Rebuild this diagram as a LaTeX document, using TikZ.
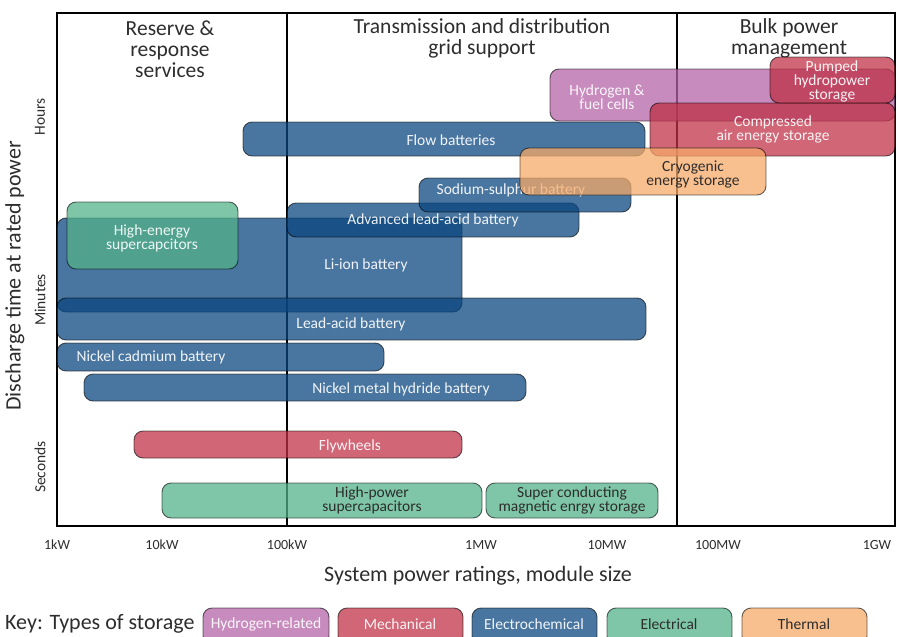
\documentclass[tikz,border=0pt]{standalone}
\usepackage{fontspec}
\setmainfont{Carlito}
\definecolor{hydC}{RGB}{181,98,167}
\definecolor{mechC}{RGB}{191,48,70}
\definecolor{echemC}{RGB}{10,70,127}
\definecolor{elecC}{RGB}{82,178,137}
\definecolor{thermC}{RGB}{247,170,104}
\definecolor{txt}{RGB}{45,45,45}
\newcommand\sbar[6]{\node[#6, minimum width={#4-#2}, minimum height={#5-#3}] (#1) at ({(#2+#4)/2},{(#3+#5)/2}) {};}
\begin{document}
\begin{tikzpicture}[x=1pt,y=-1pt,
  bar/.style={rectangle, rounded corners=9pt, draw=black, draw opacity=0.6, line width=0.9pt, fill opacity=0.74, inner sep=0pt, outer sep=0pt},
  hyd/.style={bar, fill=hydC},
  mech/.style={bar, fill=mechC},
  echem/.style={bar, fill=echemC},
  elec/.style={bar, fill=elecC},
  therm/.style={bar, fill=thermC},
  lbl/.style={font=\fontsize{15.5}{14}\selectfont, align=center, text=white, text opacity=0.92, inner sep=0pt},
  lbldark/.style={lbl, text=txt, text opacity=1},
  head/.style={font=\fontsize{21.5}{21}\selectfont, align=center, text=txt, inner sep=0pt},
  axtitle/.style={font=\fontsize{22}{22}\selectfont, text=txt, inner sep=0pt},
  tick/.style={font=\fontsize{14}{14}\selectfont, text=txt, inner sep=0pt},
  ytick/.style={font=\fontsize{15.5}{15.5}\selectfont, text=txt, inner sep=0pt, rotate=90},
  frame/.style={line width=2pt, black}
]
\useasboundingbox (0,0) rectangle (898,637);

% frame and region dividers
\draw[frame] (57,13) rectangle (895,526);
\draw[frame] (287,13) -- (287,526);
\draw[frame] (677,13) -- (677,526);

% region headers
\node[head] (hres) at (170,49) {Reserve \&\\response\\services};
\node[head] (htd) at (482,38) {Transmission and distribution\\grid support};
\node[head] (hbulk) at (789,38) {Bulk power\\management};

% bars
\sbar{liion}{57}{218}{462}{312}{echem}
\node[lbl] (liiont) at (366,265) {Li-ion battery};
\sbar{leadacid}{57}{298}{646}{340}{echem}
\node[lbl] (leadacidt) at (351,324) {Lead-acid battery};
\sbar{hesc}{67}{202}{238}{269}{elec}
\node[lbl] (hesct) at (152,238) {High-energy\\supercapcitors};
\sbar{alab}{287}{203}{579}{237}{echem}
\node[lbl] (alabt) at (433,220) {Advanced lead-acid battery};
\sbar{nas}{419}{178}{631}{212}{echem}
\node[lbl] (nast) at (511,190) {Sodium-sulphur battery};
\sbar{flow}{243}{122}{645}{156}{echem}
\node[lbl] (flowt) at (451,140) {Flow batteries};
\sbar{h2}{550}{69}{895}{121}{hyd}
\node[lbl] (h2t) at (607,97) {Hydrogen \&\\fuel cells};
\sbar{caes}{650}{103}{895}{156}{mech}
\node[lbl] (caest) at (773,129) {Compressed\\air energy storage};
\sbar{phs}{770}{57}{895}{103}{mech}
\node[lbl] (phst) at (832,81) {Pumped\\hydropower\\storage};
\sbar{cryo}{520}{148}{766}{195}{therm}
\node[lbldark] (cryot) at (693,174) {Cryogenic\\energy storage};
\sbar{nicd}{57}{343}{384}{371}{echem}
\node[lbl] (nicdt) at (151,357) {Nickel cadmium battery};
\sbar{nimh}{84}{374}{526}{401}{echem}
\node[lbl] (nimht) at (401,389) {Nickel metal hydride battery};
\sbar{fly}{134}{431}{462}{458}{mech}
\node[lbl] (flyt) at (350,446) {Flywheels};
\sbar{hpsc}{162}{483}{482}{518}{elec}
\node[lbldark] (hpsct) at (372,500) {High-power\\supercapacitors};
\sbar{smes}{486}{483}{658}{518}{elec}
\node[lbldark] (smest) at (572,500) {Super conducting\\magnetic enrgy storage};

% x ticks
\node[tick] (t1) at (57,545) {1kW};
\node[tick] (t2) at (162,545) {10kW};
\node[tick] (t3) at (287,545) {100kW};
\node[tick] (t4) at (481,545) {1MW};
\node[tick] (t5) at (607,545) {10MW};
\node[tick] (t6) at (718,545) {100MW};
\node[tick] (t7) at (877,545) {1GW};
\node[axtitle] (xtitle) at (478,576) {System power ratings, module size};

% y axis
\node[axtitle, rotate=90] (ytitle) at (15,276) {Discharge time at rated power};
\node[ytick] (yh) at (40,117) {Hours};
\node[ytick] (ym) at (40,300) {Minutes};
\node[ytick] (ys) at (40,467) {Seconds};

% key
\node[axtitle, anchor=west] (keyt) at (5,624) {Key: Types of storage};
\sbar{k1}{203}{608}{329}{645}{hyd}
\node[lbl] (k1t) at (266,624) {Hydrogen-related};
\sbar{k2}{338}{608}{463}{645}{mech}
\node[lbl] (k2t) at (400,624) {Mechanical};
\sbar{k3}{472}{608}{597}{645}{echem}
\node[lbl] (k3t) at (534,624) {Electrochemical};
\sbar{k4}{607}{608}{732}{645}{elec}
\node[lbldark] (k4t) at (669,624) {Electrical};
\sbar{k5}{742}{608}{867}{645}{therm}
\node[lbldark] (k5t) at (804,624) {Thermal};
\end{tikzpicture}
\end{document}
